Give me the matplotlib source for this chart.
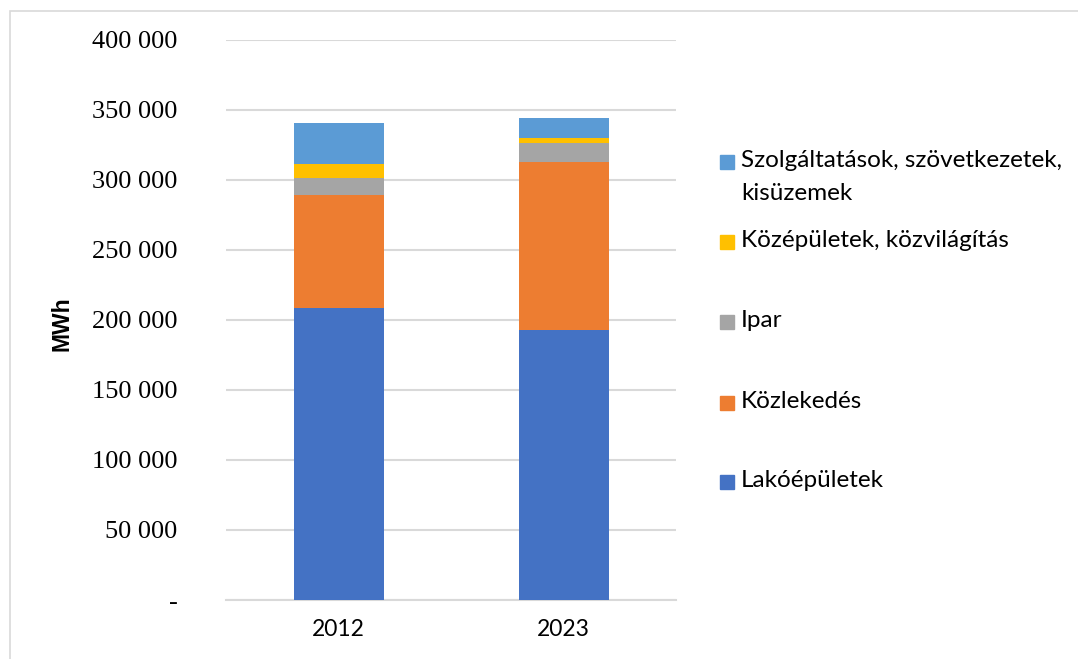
import matplotlib.pyplot as plt
from matplotlib.patches import Rectangle
from matplotlib.ticker import FuncFormatter

# adatok (MWh), kiolvasva az ábráról
evek = ["2012", "2023"]
kategoriak = ["Lakóépületek", "Közlekedés", "Ipar",
              "Középületek, közvilágítás",
              "Szolgáltatások, szövetkezetek,\nkisüzemek"]
lakoepuletek = [208800, 192600]
kozlekedes = [80700, 120500]
ipar = [12000, 13000]
kozepuletek = [10200, 4100]
szolgaltatasok = [29300, 14300]
szinek = ["#4472C4", "#ED7D31", "#A5A5A5", "#FFC000", "#5B9BD5"]

sorozatok = [lakoepuletek, kozlekedes, ipar, kozepuletek, szolgaltatasok]

fig = plt.figure(figsize=(10.78, 6.59), dpi=100)
ax = fig.add_axes([226 / 1078, 1 - 600 / 659, 450 / 1078, 560 / 659])

# keret a diagram körül
fig.patches.append(Rectangle((10 / 1078, -0.1), 1.2, 1 - 11 / 659 + 0.1,
                             transform=fig.transFigure, fill=False,
                             edgecolor="#D9D9D9", linewidth=1.2))

x = list(range(len(evek)))
alap = [0, 0]
for adat, szin in zip(sorozatok, szinek):
    ax.bar(x, adat, bottom=alap, width=0.4, color=szin, zorder=3)
    alap = [a + b for a, b in zip(alap, adat)]

ax.set_xlim(-0.5, 1.5)
ax.set_ylim(0, 400000)
ax.set_yticks(range(0, 400001, 50000))


def fmt(v, pos):
    if v == 0:
        return "-"
    return f"{int(v):,}".replace(",", " ")


ax.yaxis.set_major_formatter(FuncFormatter(fmt))
ax.set_xticks(x)
ax.set_xticklabels(evek, fontfamily="Lato", fontsize=16.5)
for t in ax.get_yticklabels():
    t.set_fontfamily("Liberation Serif")
    t.set_fontsize(19)
ax.tick_params(length=0)
ax.tick_params(axis="y", pad=35)
ax.tick_params(axis="x", pad=14)
ax.grid(axis="y", color="#D9D9D9", linewidth=1.5, zorder=0)
for s in ["top", "right", "left"]:
    ax.spines[s].set_visible(False)
ax.spines["bottom"].set_color("#D9D9D9")
ax.spines["bottom"].set_linewidth(1.5)

fig.text(62 / 1078, 1 - 324 / 659, "MWh", rotation=90, ha="center", va="center",
         fontfamily="Liberation Sans", fontweight="bold", fontsize=16.5)

# jelmagyarázat, felülről lefelé
leg_y = [162, 242, 322, 403, 482]
for nev, szin, yy in zip(kategoriak[::-1], szinek[::-1], leg_y):
    fig.patches.append(Rectangle((720 / 1078, 1 - (yy + 7) / 659), 14 / 1078, 14 / 659,
                                 transform=fig.transFigure, color=szin))
    fig.text(741 / 1078, 1 - (yy - 12) / 659, nev, ha="left", va="top",
             fontfamily="Lato", fontsize=17.5, linespacing=1.72)

fig.savefig("out.png", dpi=100)
